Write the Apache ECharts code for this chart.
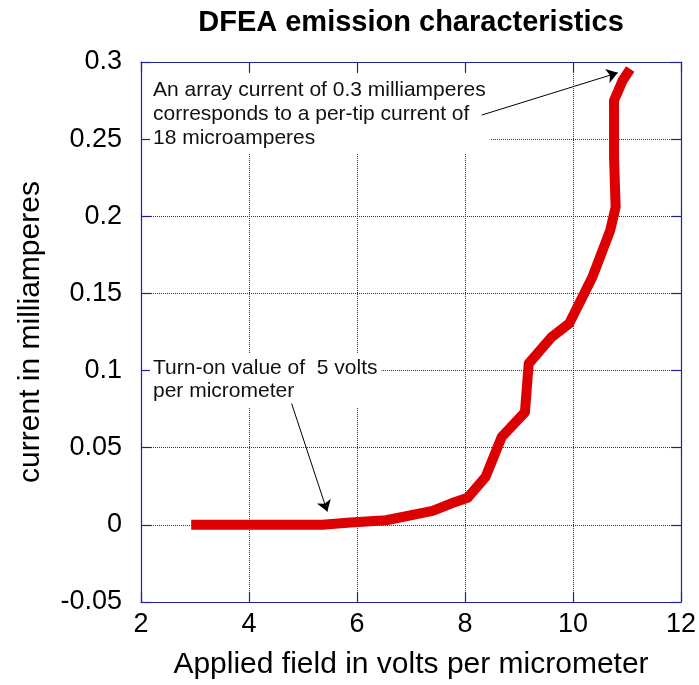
<!DOCTYPE html>
<html>
<head>
<meta charset="utf-8">
<script src="https://cdn.jsdelivr.net/npm/echarts@6/dist/echarts.min.js"></script>
<style>
html,body{margin:0;padding:0;background:#fff;}
#chart{width:699px;height:685px;}
</style>
</head>
<body>
<div id="chart"></div>
<script>
// ---- data ----
const fieldValues   = [2.93, 5.36, 5.88, 6.54, 7.40, 7.75, 8.05, 8.38, 8.68, 9.11, 9.18, 9.60, 9.93, 10.36, 10.69, 10.79, 10.76, 10.76, 10.92, 11.06];
const currentValues = [0, 0, 0.0015, 0.003, 0.009, 0.014, 0.0175, 0.031, 0.057, 0.073, 0.1045, 0.1216, 0.1305, 0.1606, 0.191, 0.206, 0.2385, 0.275, 0.288, 0.2955];
const xTickValues = [2, 4, 6, 8, 10, 12];
const xTickLabels = ['2', '4', '6', '8', '10', '12'];
const yTickValues = [-0.05, 0, 0.05, 0.1, 0.15, 0.2, 0.25, 0.3];
const yTickLabels = ['-0.05', '0', '0.05', '0.1', '0.15', '0.2', '0.25', '0.3'];
const titleText = 'DFEA emission characteristics';
const xName = 'Applied field in volts per micrometer';
const yName = 'current in milliamperes';
const noteTop = ['An array current of 0.3 milliamperes', 'corresponds to a per-tip current of', '18 microamperes'];
const noteBottom = ['Turn-on value of  5 volts', 'per micrometer'];
const arrowTop = [[8.31, 0.2656], [10.83, 0.2930]];
const arrowBottom = [[4.79, 0.0786], [5.45, 0.0086]];

const FONT = '"Liberation Sans", Arial, Helvetica, sans-serif';
const NAVY = '#1f1f9a';
const GRIDC = '#2424c4';

function lookup(vals, labels, v) {
  for (let i = 0; i < vals.length; i++) if (Math.abs(vals[i] - v) < 1e-9) return labels[i];
  return '';
}

const chart = echarts.init(document.getElementById('chart'));
const points = fieldValues.map((x, i) => [x, currentValues[i]]);

const axisLine = { show: true, onZero: false, lineStyle: { color: NAVY, width: 1.2 } };
const axisTick = { show: true, inside: true, length: 10, lineStyle: { color: NAVY, width: 1.2 } };

chart.setOption({
  backgroundColor: '#ffffff',
  animation: false,
  title: {
    text: titleText,
    left: 411,
    top: 8,
    textAlign: 'center',
    padding: 0,
    textStyle: { fontFamily: FONT, fontSize: 29, fontWeight: 'bold', color: '#000' }
  },
  grid: { left: 141, right: 16, top: 62, bottom: 83 },
  xAxis: [
    {
      type: 'value', position: 'bottom', min: 2, max: 12, interval: 2,
      name: xName, nameLocation: 'middle', nameGap: 48,
      nameTextStyle: { fontFamily: FONT, fontSize: 30, color: '#000' },
      axisLine: axisLine, axisTick: axisTick,
      axisLabel: { margin: 9, fontFamily: FONT, fontSize: 27, color: '#000',
                   formatter: v => lookup(xTickValues, xTickLabels, v) },
      splitLine: { show: true, lineStyle: { color: GRIDC, width: 1, type: [1, 1] } }
    },
    {
      type: 'value', position: 'top', min: 2, max: 12, interval: 2,
      axisLine: axisLine, axisTick: axisTick,
      axisLabel: { show: false }, splitLine: { show: false }
    }
  ],
  yAxis: [
    {
      type: 'value', position: 'left', min: -0.05, max: 0.3, interval: 0.05,
      name: yName, nameLocation: 'middle', nameGap: 95,
      nameTextStyle: { fontFamily: FONT, fontSize: 30, color: '#000' },
      axisLine: axisLine, axisTick: axisTick,
      axisLabel: { margin: 19, fontFamily: FONT, fontSize: 27, color: '#000',
                   formatter: v => lookup(yTickValues, yTickLabels, v) },
      splitLine: { show: true, lineStyle: { color: GRIDC, width: 1, type: [1, 1] } }
    },
    {
      type: 'value', position: 'right', min: -0.05, max: 0.3, interval: 0.05,
      axisLine: axisLine, axisTick: axisTick,
      axisLabel: { show: false }, splitLine: { show: false }
    }
  ],
  graphic: [
    {
      type: 'text', x: 150, y: 74, z: 1,
      style: { text: noteTop.join('\n'), fontFamily: FONT, fontSize: 21, lineHeight: 24,
               fill: '#111', backgroundColor: '#ffffff', padding: [4, 4, 4, 3] }
    },
    {
      type: 'text', x: 150, y: 353, z: 1,
      style: { text: noteBottom.join('\n'), fontFamily: FONT, fontSize: 21, lineHeight: 23,
               fill: '#111', backgroundColor: '#ffffff', padding: [4, 4, 4, 3] }
    }
  ],
  series: [
    {
      type: 'line', data: points, xAxisIndex: 0, yAxisIndex: 0,
      showSymbol: false, symbol: 'none', z: 3,
      lineStyle: { color: '#dd0000', width: 10, cap: 'butt', join: 'round' },
      markLine: {
        silent: true, symbol: ['none', 'arrow'], symbolSize: 11,
        label: { show: false },
        lineStyle: { color: '#000', width: 1, type: 'solid' },
        data: [
          [{ coord: arrowTop[0] }, { coord: arrowTop[1] }],
          [{ coord: arrowBottom[0] }, { coord: arrowBottom[1] }]
        ]
      }
    }
  ]
});
</script>
</body>
</html>
